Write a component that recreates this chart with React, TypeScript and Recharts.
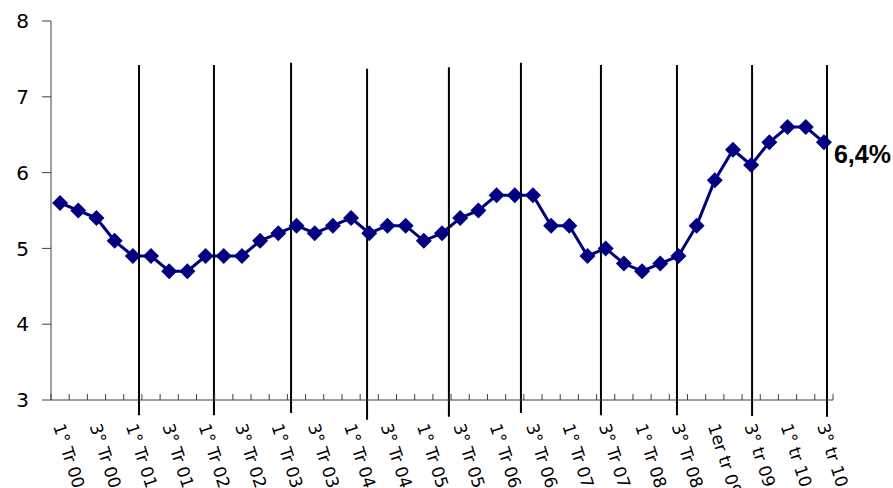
import React from 'react';
import { LineChart, Line, XAxis, YAxis, ReferenceLine, LabelList } from 'recharts';

// quarterly rate, 1st quarter 2000 -> 3rd quarter 2010
const quarters = [
  '1° Tr 00', '2° Tr 00', '3° Tr 00', '4° Tr 00',
  '1° Tr 01', '2° Tr 01', '3° Tr 01', '4° Tr 01',
  '1° Tr 02', '2° Tr 02', '3° Tr 02', '4° Tr 02',
  '1° Tr 03', '2° Tr 03', '3° Tr 03', '4° Tr 03',
  '1° Tr 04', '2° Tr 04', '3° Tr 04', '4° Tr 04',
  '1° Tr 05', '2° Tr 05', '3° Tr 05', '4° Tr 05',
  '1° Tr 06', '2° Tr 06', '3° Tr 06', '4° Tr 06',
  '1° Tr 07', '2° Tr 07', '3° Tr 07', '4° Tr 07',
  '1° Tr 08', '2° Tr 08', '3° Tr 08', '4° Tr 08',
  '1er tr 09', '2° tr 09', '3° tr 09', '4° tr 09',
  '1° tr 10', '2° tr 10', '3° tr 10',
];

const rates = [
  5.6, 5.5, 5.4, 5.1,
  4.9, 4.9, 4.7, 4.7,
  4.9, 4.9, 4.9, 5.1,
  5.2, 5.3, 5.2, 5.3,
  5.4, 5.2, 5.3, 5.3,
  5.1, 5.2, 5.4, 5.5,
  5.7, 5.7, 5.7, 5.3,
  5.3, 4.9, 5.0, 4.8,
  4.7, 4.8, 4.9, 5.3,
  5.9, 6.3, 6.1, 6.4,
  6.6, 6.6, 6.4,
];

const yTicks = [3, 4, 5, 6, 7, 8];

// hand drawn year separators, in category units (0 = first quarter)
const separatorPos = [4.34, 8.46, 12.7, 16.88, 21.38, 25.34, 29.74, 33.92, 38.05, 42.17];
const separatorTop = [7.42, 7.42, 7.45, 7.37, 7.39, 7.45, 7.42, 7.42, 7.42, 7.42];
const separatorBottom = [2.8, 2.8, 2.83, 2.74, 2.78, 2.83, 2.8, 2.8, 2.79, 2.78];

const data = quarters.map((q, i) => ({ quarter: q, rate: rates[i] }));

const NAVY = '#000080';
const AXIS = '#404040';
const PLOT_W = 782;
// half a category: points sit in the middle of each slot, like excel
const PAD = PLOT_W / (quarters.length * 2);

const Diamond = (props: any) => {
  const { cx, cy, index } = props;
  if (cx == null || cy == null) return null;
  const r = 8;
  return (
    <polygon
      key={`d-${index}`}
      points={`${cx},${cy - r} ${cx + r},${cy} ${cx},${cy + r} ${cx - r},${cy}`}
      fill={NAVY}
    />
  );
};

const QuarterTick = (props: any) => {
  const { x, y, payload, index } = props;
  const last = index === quarters.length - 1;
  return (
    <g>
      <line x1={x - PAD} y1={y} x2={x - PAD} y2={y - 6} stroke={AXIS} />
      {last && <line x1={x + PAD} y1={y} x2={x + PAD} y2={y - 6} stroke={AXIS} />}
      {index % 2 === 0 && (
        <text
          x={0}
          y={0}
          transform={`translate(${x - 7},${y + 26}) rotate(72)`}
          textAnchor="start"
          fontSize={17}
          fill="#000"
        >
          {payload.value}
        </text>
      )}
    </g>
  );
};

const LastLabel = (props: any) => {
  const { x, y, value, index } = props;
  if (index !== rates.length - 1) return null;
  return (
    <text
      x={x + 10}
      y={y + 21}
      fontSize={25}
      fontWeight="bold"
      fontFamily='"Liberation Sans", sans-serif'
      fill="#000"
    >
      {`${String(value).replace('.', ',')}%`}
    </text>
  );
};

export default function App() {
  return (
    <div style={{ position: 'absolute', left: 0, top: 0, width: 893, height: 488 }}>
      <LineChart
        width={893}
        height={488}
        data={data}
        margin={{ top: 21, right: 60, left: 0, bottom: 0 }}
        style={{ fontFamily: '"DejaVu Sans", sans-serif' }}
      >
        <XAxis
          dataKey="quarter"
          height={88}
          interval={0}
          padding={{ left: PAD, right: PAD }}
          tickSize={0}
          tickMargin={0}
          tickLine={false}
          axisLine={{ stroke: AXIS }}
          tick={<QuarterTick />}
        />
        <XAxis
          xAxisId="sep"
          type="number"
          domain={[0, quarters.length - 1]}
          allowDataOverflow
          padding={{ left: PAD, right: PAD }}
          hide
        />
        <YAxis
          width={51}
          domain={[3, 8]}
          ticks={yTicks}
          tickSize={9}
          tickMargin={13}
          tickLine={{ stroke: AXIS }}
          axisLine={{ stroke: AXIS }}
          tick={{ fill: '#000', fontSize: 20 }}
        />
        <Line
          dataKey="rate"
          stroke={NAVY}
          strokeWidth={3}
          dot={<Diamond />}
          activeDot={false}
          isAnimationActive={false}
        >
          <LabelList dataKey="rate" content={<LastLabel />} />
        </Line>
        {separatorPos.map((p, i) => (
          <ReferenceLine
            key={`sep-${i}`}
            xAxisId="sep"
            segment={[
              { x: p, y: separatorTop[i] },
              { x: p, y: separatorBottom[i] },
            ]}
            ifOverflow="visible"
            stroke="#000"
            strokeWidth={2}
          />
        ))}
      </LineChart>
    </div>
  );
}
